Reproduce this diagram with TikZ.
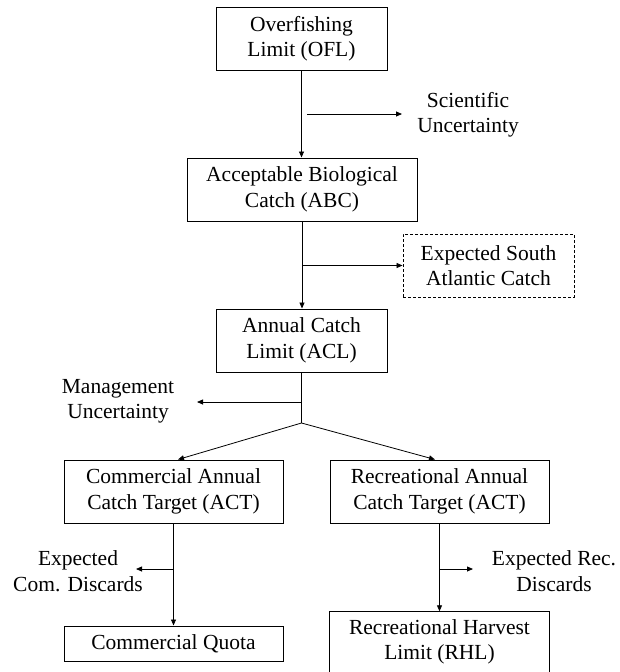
\documentclass[tikz,border=0pt]{standalone}
\usepackage{fontspec}
\setmainfont{Liberation Serif}
\usetikzlibrary{arrows.meta}
\begin{document}
\begin{tikzpicture}[x=1pt,y=-1pt,
  every node/.style={font=\fontsize{21.5}{25.5}\selectfont, align=center, inner sep=2pt},
  box/.style={draw, line width=1pt, minimum height=63pt, inner sep=2pt},
  dbox/.style={draw, line width=0.9pt, dash pattern=on 3pt off 2pt, minimum height=63pt},
  arr/.style={line width=0.8pt, -{Triangle[length=6pt,width=5pt]}},
  ln/.style={line width=0.8pt}]
\useasboundingbox (0,0) rectangle (619,672);
% boxes
\node[box, minimum width=171pt] (ofl) at (301.5,38.5) {Overfishing\\Limit (OFL)};
\node[box, minimum width=230pt] (abc) at (302,189.5) {Acceptable Biological\\Catch (ABC)};
\node[dbox, minimum width=171pt] (esa) at (488.5,265.5) {Expected South\\Atlantic Catch};
\node[box, minimum width=171pt] (acl) at (301.5,340.5) {Annual Catch\\Limit (ACL)};
\node[box, minimum width=219pt] (cact) at (173.5,491.5) {Commercial Annual\\Catch Target (ACT)};
\node[box, minimum width=219pt] (ract) at (439.5,491.5) {Recreational Annual\\Catch Target (ACT)};
\node[box, minimum width=219pt, minimum height=35pt] (quota) at (173.5,643.5) {Commercial Quota};
\node[minimum width=219pt, minimum height=61pt, inner sep=2pt] (rhl) at (439.5,642) {Recreational Harvest\\Limit (RHL)};
\draw[line width=1pt] (rhl.south west) |- (rhl.north east) -- (rhl.south east);
% free labels
\node (sci) at (468,114.5) {Scientific\\Uncertainty};
\node (mgmt) at (118,401.5) {Management\\Uncertainty};
\node (ecd) at (78,571) {Expected\\Com. Discards};
\node (erd) at (554,571) {Expected Rec.\\Discards};
% connectors
\coordinate (s1) at (307,114);
\coordinate (s2) at (402,114);
\coordinate (m) at (197,402);
\coordinate (split) at (301.5,423);
\coordinate (cd) at (136,569);
\coordinate (rd) at (473,569);
\draw[arr] (ofl.south) -- (ofl.south |- abc.north);
\draw[arr] (s1) -- (s2);
\draw[arr] (abc.south) -- (abc.south |- acl.north);
\draw[arr] (abc.south |- esa.west) -- (esa.west);
\draw[ln] (acl.south) -- (split);
\draw[arr] (acl.south |- m) -- (m);
\draw[arr] (split) -- ([xshift=4.5pt]cact.north);
\draw[arr] (split) -- ([xshift=-4.5pt]ract.north);
\draw[arr] (cact.south) -- (quota.north);
\draw[arr] (cact.south |- cd) -- (cd);
\draw[arr] (ract.south) -- (rhl.north);
\draw[arr] (ract.south |- rd) -- (rd);
\end{tikzpicture}
\end{document}
